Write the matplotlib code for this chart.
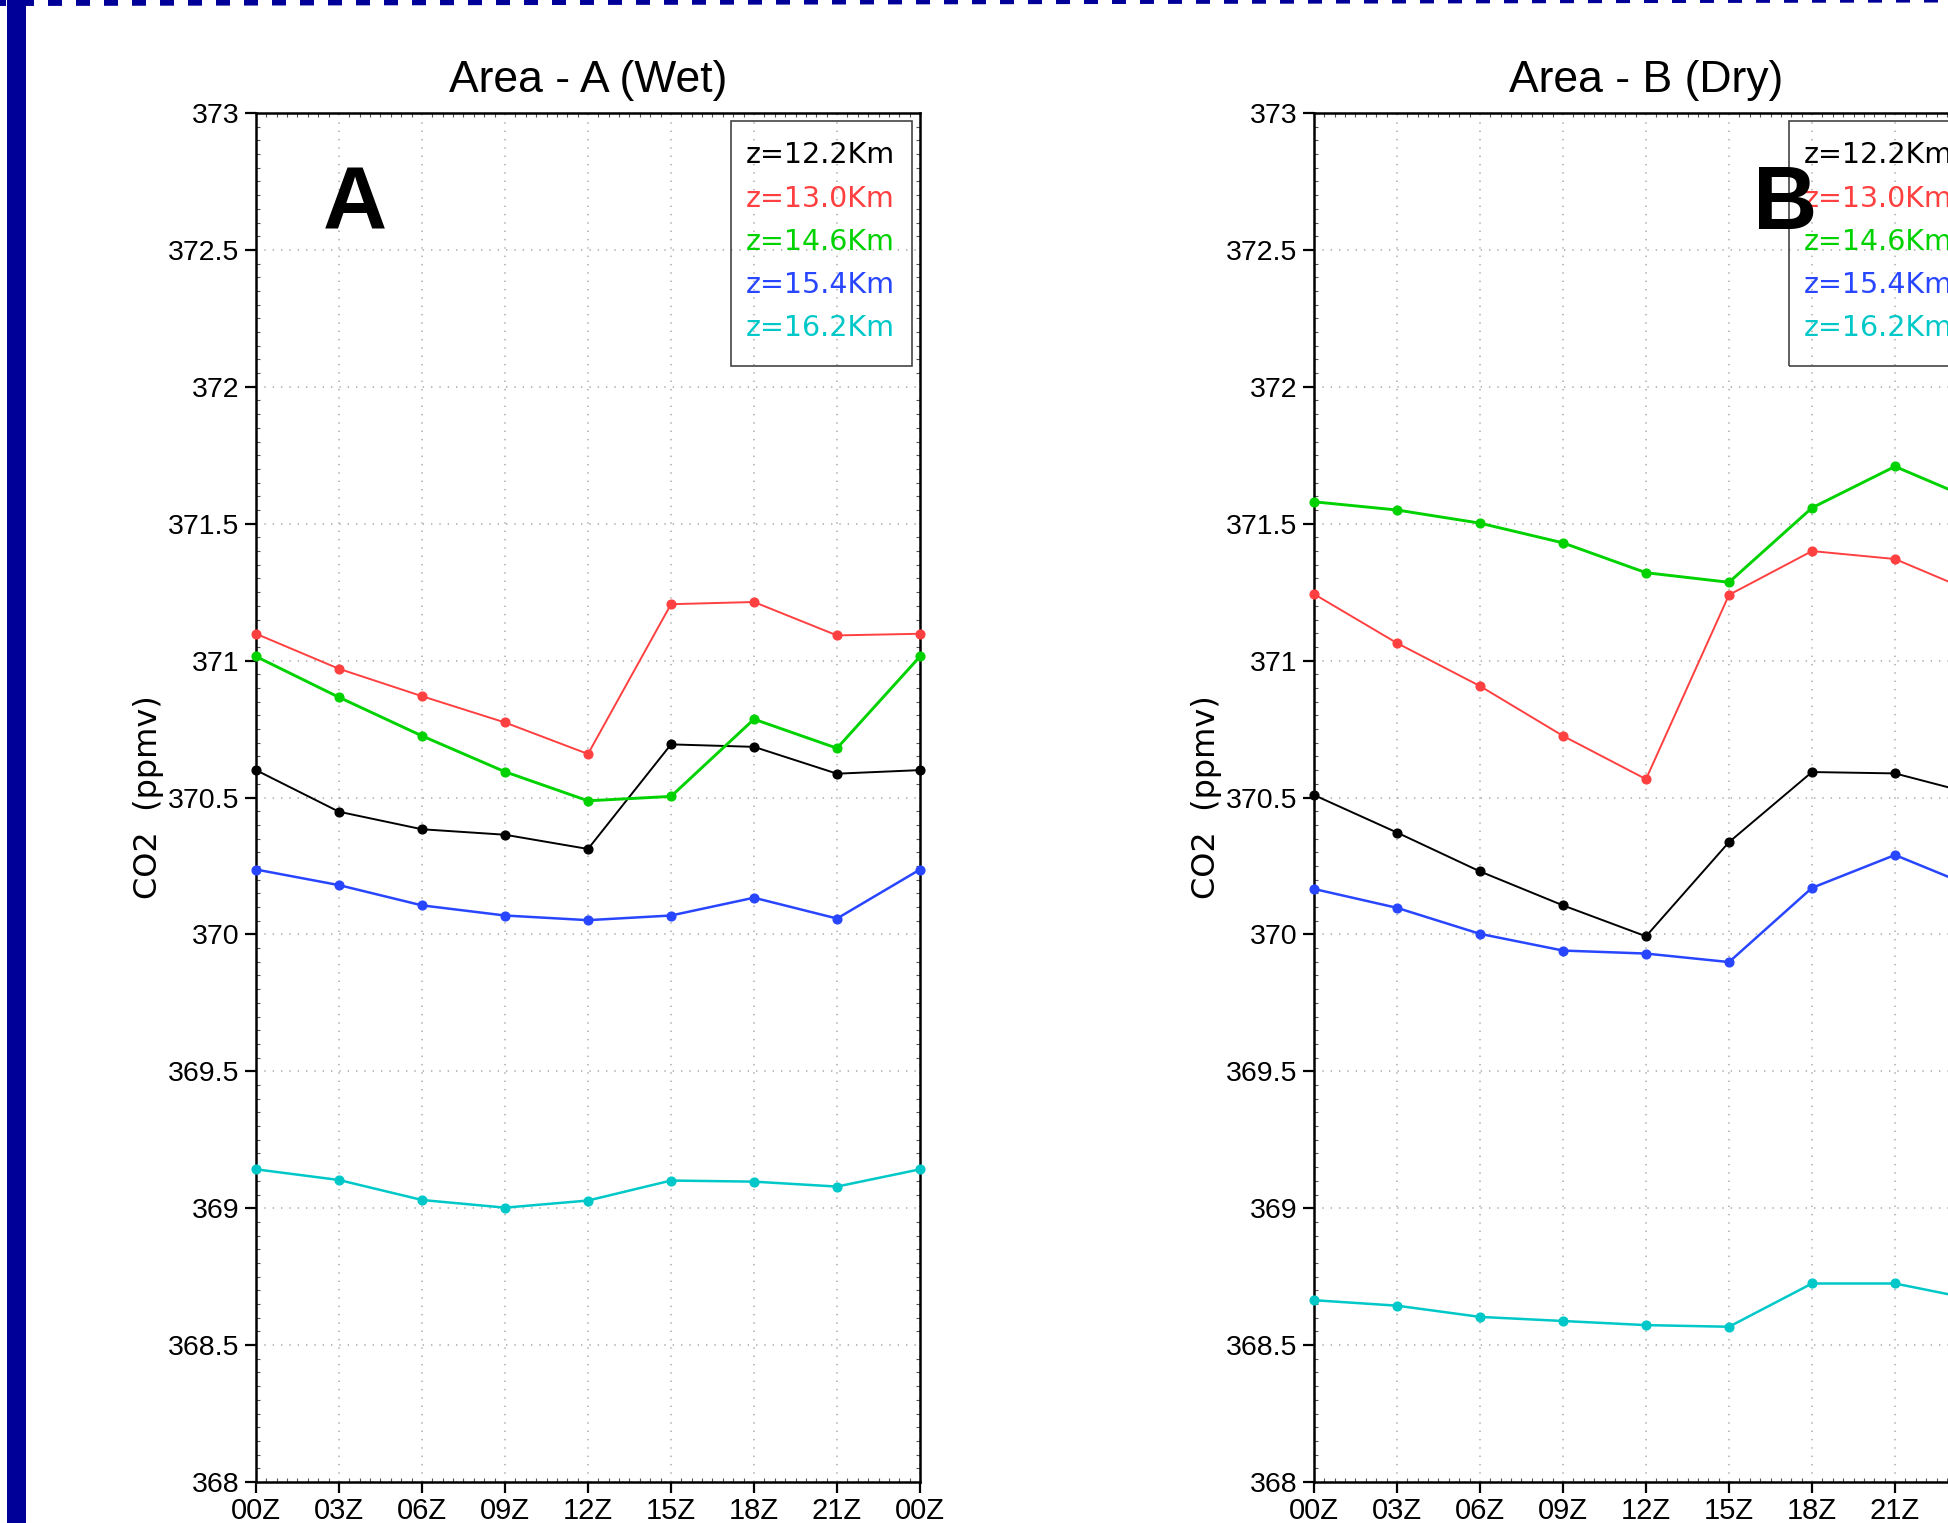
import numpy as np
import matplotlib
matplotlib.use("Agg")
import matplotlib.pyplot as plt
from matplotlib.ticker import MultipleLocator, FixedLocator, FuncFormatter
from matplotlib.patches import Rectangle
from matplotlib.lines import Line2D

plt.rcParams['font.family'] = ['Liberation Sans', 'DejaVu Sans']
plt.rcParams['lines.scale_dashes'] = False

# time axis
hours = [0, 3, 6, 9, 12, 15, 18, 21, 24]
hour_labels = ["00Z", "03Z", "06Z", "09Z", "12Z", "15Z", "18Z", "21Z", "00Z"]

# legend entries / line styles
levels = ["z=12.2Km", "z=13.0Km", "z=14.6Km", "z=15.4Km", "z=16.2Km"]
colors = ["#000000", "#ff4040", "#00d200", "#2846ff", "#00c8c8"]
widths = [1.4, 1.4, 2.1, 1.8, 1.8]

# Area A (wet), CO2 in ppmv
wet_122 = [370.60, 370.448, 370.384, 370.364, 370.312, 370.694, 370.685, 370.587, 370.60]
wet_130 = [371.098, 370.970, 370.870, 370.774, 370.659, 371.206, 371.214, 371.092, 371.098]
wet_146 = [371.015, 370.866, 370.725, 370.594, 370.488, 370.504, 370.786, 370.680, 371.015]
wet_154 = [370.237, 370.180, 370.106, 370.069, 370.052, 370.069, 370.134, 370.058, 370.237]
wet_162 = [369.142, 369.103, 369.030, 369.002, 369.028, 369.101, 369.097, 369.079, 369.142]

# Area B (dry)
dry_122 = [370.509, 370.372, 370.230, 370.106, 369.993, 370.337, 370.593, 370.588, 370.509]
dry_130 = [371.243, 371.064, 370.907, 370.725, 370.567, 371.240, 371.400, 371.371, 371.243]
dry_146 = [371.580, 371.550, 371.502, 371.430, 371.321, 371.286, 371.558, 371.709, 371.580]
dry_154 = [370.166, 370.097, 370.002, 369.941, 369.930, 369.899, 370.170, 370.290, 370.166]
dry_162 = [368.664, 368.644, 368.603, 368.588, 368.573, 368.567, 368.725, 368.725, 368.664]

W, H = 1949, 1523
fig = plt.figure(figsize=(W / 100, H / 100), dpi=100)

# frame decoration (left bar + dashed top line)
blue_frame = "#000099"
fig.add_artist(Rectangle((7 / W, 0), 19 / W, 1, transform=fig.transFigure,
                         color=blue_frame, lw=0))
fig.add_artist(Line2D([0, 1], [1 - 3 / H, 1 + 0.5 / H], transform=fig.transFigure,
                      color=blue_frame, lw=4.32, solid_capstyle='butt',
                      dash_capstyle='butt', linestyle=(5.76, (10.08, 10.08))))


def draw_panel(ax, series, title, letter, letter_x, xlabels):
    for vals, c, lw in zip(series, colors, widths):
        ax.plot(hours, vals, color=c, lw=lw, marker='o', ms=6.3,
                mec=c, mfc=c, clip_on=False, zorder=3)
    ax.set_xlim(0, 24)
    ax.set_ylim(368, 373)
    ax.xaxis.set_major_locator(FixedLocator(hours))
    ax.set_xticklabels(xlabels)
    ax.xaxis.set_minor_locator(MultipleLocator(3 / 8))
    ax.yaxis.set_major_locator(MultipleLocator(0.5))
    ax.yaxis.set_minor_locator(MultipleLocator(0.05))
    ax.yaxis.set_major_formatter(FuncFormatter(lambda v, p: f"{v:g}"))
    ax.tick_params(which='major', direction='out', length=8, width=1.6,
                   labelsize=21, pad=3, top=False, right=False)
    ax.tick_params(axis='y', which='major', pad=4, labelsize=20.5)
    ax.tick_params(which='minor', direction='in', length=3, width=0.8,
                   top=True, right=True, color='#555555')
    for s in ax.spines.values():
        s.set_linewidth(1.8)
    ax.grid(True, which='major', color='#a8a8a8', lw=1.1, linestyle=(0, (1, 5)))
    ax.set_title(title, fontsize=32, pad=15)
    ax.text(-0.162, 0.5, "CO2  (ppmv)", rotation=90, ha='center', va='center',
            fontsize=23, family='DejaVu Sans', transform=ax.transAxes)

    # legend box
    ax.add_patch(Rectangle((0.716, 0.815), 0.272, 0.179, transform=ax.transAxes,
                           fill=False, ec='#444444', lw=1.2, zorder=4))
    for i, (lab, c) in enumerate(zip(levels, colors)):
        ax.text(0.737, 0.969 - i * 0.0316, lab, color=c, fontsize=20.5,
                family='DejaVu Sans', ha='left', va='center',
                transform=ax.transAxes, zorder=5)

    ax.text(letter_x, 0.932, letter, fontsize=64, fontweight='bold',
            family='Liberation Sans', ha='center', va='center',
            transform=ax.transAxes, zorder=6)


ax1 = fig.add_axes([256 / W, 1 - 1482 / H, 664 / W, 1369 / H])
ax2 = fig.add_axes([1314 / W, 1 - 1482 / H, 664 / W, 1369 / H])

draw_panel(ax1, [wet_122, wet_130, wet_146, wet_154, wet_162], "Area - A (Wet)", "A", 0.149,
           hour_labels)
# the last 00Z label of panel B lies past the right edge of the picture
draw_panel(ax2, [dry_122, dry_130, dry_146, dry_154, dry_162], "Area - B (Dry)", "B", 0.71,
           hour_labels[:-1] + [""])

fig.savefig("out.png", dpi=100)
